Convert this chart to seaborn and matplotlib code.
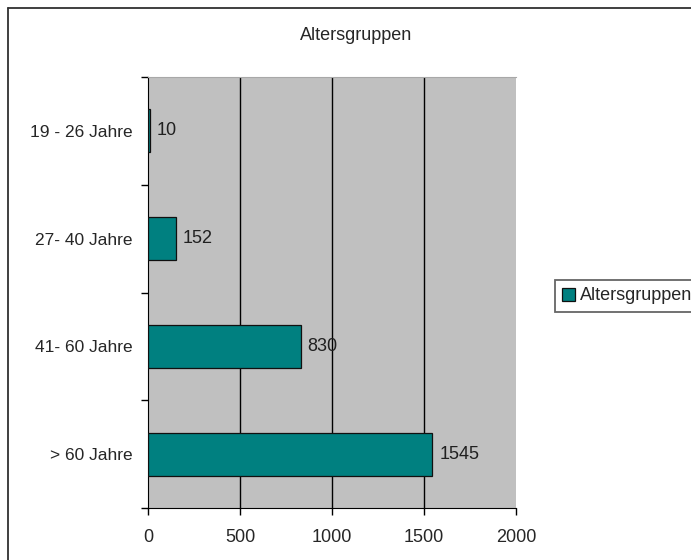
import numpy as np
import pandas as pd
import seaborn as sns
import matplotlib
matplotlib.use('Agg')
import matplotlib.pyplot as plt
from matplotlib.lines import Line2D

# Daten
kategorien = ['19 - 26 Jahre', '27- 40 Jahre', '41- 60 Jahre', '> 60 Jahre']
anzahl = [10, 152, 830, 1545]
x_ticks = [0, 500, 1000, 1500, 2000]
titel = 'Altersgruppen'

sns.set_style('white')
plt.rcParams['font.family'] = ['Liberation Sans', 'DejaVu Sans']

fig = plt.figure(figsize=(6.91, 5.6), dpi=100)
ax = fig.add_axes([148 / 691, 1 - 508 / 560, (516 - 148) / 691, (508 - 77) / 560])
ax.set_facecolor('#c0c0c0')

df = pd.DataFrame({'Gruppe': kategorien, 'Anzahl': anzahl})
sns.barplot(data=df, x='Anzahl', y='Gruppe', orient='h', color='#008080',
            saturation=1, edgecolor='#101010', linewidth=0.9, width=0.4,
            label=titel, ax=ax, zorder=3)

# Werte an den Balken
ax.bar_label(ax.containers[0], labels=[str(v) for v in anzahl], padding=5,
             fontsize=13, color='#202020')

# Achsen
ax.set_xlim(0, 2000)
ax.set_ylim(3.5, -0.5)
ax.set_xticks(x_ticks)
ax.set_xticklabels([str(t) for t in x_ticks], fontsize=13)
ax.set_yticks(range(len(kategorien)))
ax.set_yticklabels(kategorien, fontsize=12.5)
ax.set_yticks(np.arange(-0.5, 4.0, 1.0), minor=True)
ax.tick_params(axis='y', which='major', left=True, length=0, pad=11)
ax.tick_params(axis='y', which='minor', left=True, length=5, direction='out', width=1, color='black')
ax.tick_params(axis='x', which='major', bottom=True, length=5, direction='out', width=1,
               color='black', pad=10)
ax.set_xlabel('')
ax.set_ylabel('')

# Gitterlinien
for gx in x_ticks[1:-1]:
    ax.axvline(gx, color='black', linewidth=1, zorder=1)

ax.spines['left'].set_color('black')
ax.spines['bottom'].set_color('black')
ax.spines['right'].set_visible(False)
ax.spines['top'].set_color('#a8a8a8')
ax.spines['top'].set_linewidth(0.8)

# Titel
fig.text(356 / 691, 1 - 35 / 560, titel, ha='center', va='center', fontsize=13)

# Legende
handles, labels = ax.get_legend_handles_labels()
leg = fig.legend(handles, labels, loc='center left', bbox_to_anchor=(555 / 691, 1 - 296 / 560),
                 fontsize=13, frameon=True, fancybox=False, handlelength=0.7,
                 handleheight=0.7, handletextpad=0.3, borderpad=0.4, borderaxespad=0)
leg.get_frame().set_edgecolor('#404040')
leg.get_frame().set_linewidth(1.3)
if ax.get_legend():
    ax.get_legend().remove()

# Rahmen des Diagrammbereichs
fig.add_artist(Line2D([8 / 691, 8 / 691], [0, 1 - 8 / 560], color='#303030', linewidth=1.3))
fig.add_artist(Line2D([8 / 691, 1], [1 - 8 / 560, 1 - 8 / 560], color='#303030', linewidth=1.3))

fig.savefig('out.png', dpi=100)
